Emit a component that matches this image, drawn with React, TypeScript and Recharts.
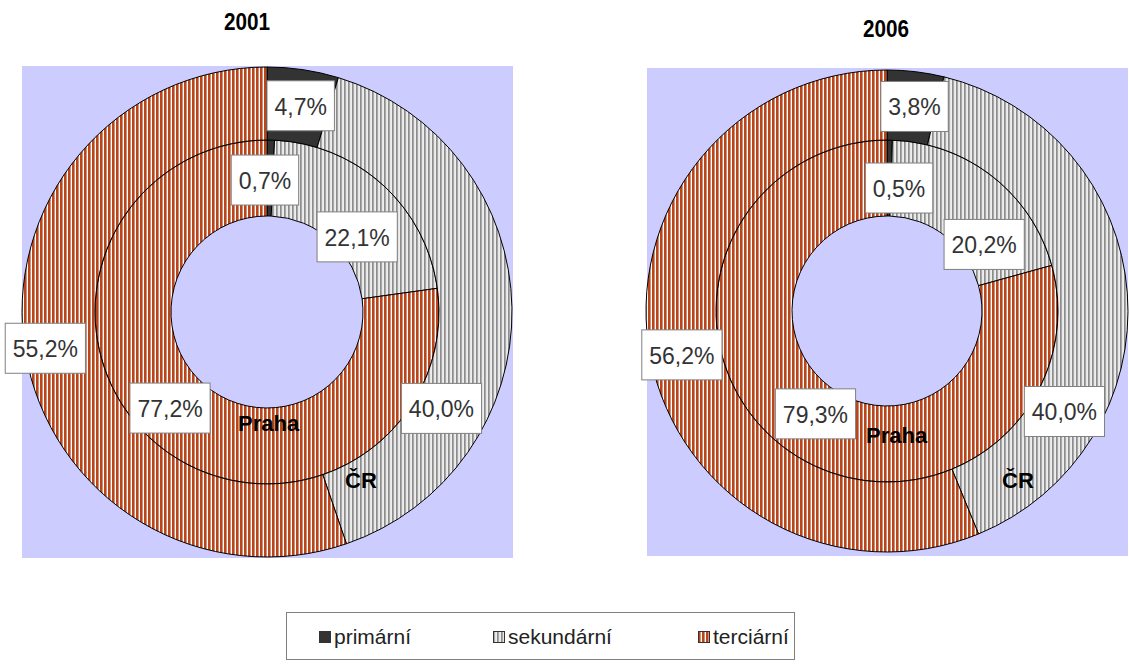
import React from 'react';
import { PieChart, Pie, Cell, Legend } from 'recharts';

// sectors of the economy
const categories = ['primární', 'sekundární', 'terciární'];
const years = ['2001', '2006'];

// outer ring = ČR, inner ring = Praha (share of employment, %)
const cr2001 = [4.7, 40.0, 55.2];
const praha2001 = [0.7, 22.1, 77.2];
const cr2006 = [3.8, 40.0, 56.2];
const praha2006 = [0.5, 20.2, 79.3];

const fills = ['#333333', 'url(#patSek)', 'url(#patTer)'];
const FONT = '"Liberation Sans", Arial, sans-serif';
const RAD = Math.PI / 180;

const rows = (vals: number[]) => categories.map((name, i) => ({ name, value: vals[i] }));

// label nudges from the sector midpoint (labels were dragged in the original)
const nudge2001Outer = [[3, 0], [-34, 100], [-16, 2]];
const nudge2001Inner = [[-5, 2], [0, 24], [-9, -5]];
const nudge2006Outer = [[3, 0], [-28, 116], [-3, 4]];
const nudge2006Inner = [[10, 10], [15, 38], [9, -3]];

const charW: Record<string, number> = { ',': 0.278, '%': 0.889 };
const textWidth = (s: string, size: number) =>
  s.split('').reduce((w, c) => w + (charW[c] ?? 0.556), 0) * size;

function makeLabel(nudge: number[][]) {
  return (p: any) => {
    const r = (p.innerRadius + p.outerRadius) / 2;
    const x = p.cx + r * Math.cos(-p.midAngle * RAD) + nudge[p.index][0];
    const y = p.cy + r * Math.sin(-p.midAngle * RAD) + nudge[p.index][1];
    const txt = Number(p.value).toFixed(1).replace('.', ',') + '%';
    const w = textWidth(txt, 23) + 15;
    return (
      <g key={`lbl-${p.index}`}>
        <rect x={x - w / 2} y={y - 25} width={w} height={50} fill="#fff" stroke="#808080" />
        <text x={x} y={y + 1} textAnchor="middle" dominantBaseline="central" fontSize={23} fontFamily={FONT} fill="#333">
          {txt}
        </text>
      </g>
    );
  };
}

function Swatch({ fill }: { fill: string }) {
  return (
    <svg width={12} height={12} style={{ display: 'block' }}>
      <rect x={0.5} y={0.5} width={11} height={11} fill={fill} stroke="#333" />
    </svg>
  );
}

const legendLeft = [32, 206, 411];

function LegendBox(props: any) {
  const seen: string[] = [];
  (props.payload || []).forEach((e: any) => {
    if (!seen.includes(e.value)) seen.push(e.value);
  });
  const names = seen.length ? seen : categories;
  return (
    <div style={{ position: 'relative', width: 509, height: 48, border: '1px solid #808080', background: '#fff', boxSizing: 'border-box' }}>
      {names.map((n, i) => (
        <div key={n} style={{ position: 'absolute', left: legendLeft[i], top: 12, display: 'flex', alignItems: 'center', gap: 3, fontFamily: FONT, fontSize: 21, color: '#222' }}>
          <Swatch fill={fills[categories.indexOf(n)]} />
          <span>{n}</span>
        </div>
      ))}
    </div>
  );
}

const abs = (left: number, top: number): React.CSSProperties => ({ position: 'absolute', left, top });

export default function App() {
  return (
    <div style={{ position: 'absolute', left: 0, top: 0, width: 1129, height: 664, background: '#fff', overflow: 'hidden' }}>
      <svg width={0} height={0} style={{ position: 'absolute' }}>
        <defs>
          <pattern id="patTer" width={4} height={4} patternUnits="userSpaceOnUse">
            <rect width={4} height={4} fill="#fff" />
            <rect width={2.6} height={4} fill="#B8461A" />
          </pattern>
          <pattern id="patSek" width={4} height={4} patternUnits="userSpaceOnUse">
            <rect width={4} height={4} fill="#d6d6d6" />
            <rect width={1.6} height={4} fill="#8c8c8c" />
            <rect x={2.6} width={1} height={4} fill="#fff" />
          </pattern>
        </defs>
      </svg>

      <div style={{ ...abs(22, 66), width: 491, height: 492, background: '#CCCCFF' }} />
      <div style={{ ...abs(647, 68), width: 481, height: 488, background: '#CCCCFF' }} />

      <div style={{ ...abs(197, 9), width: 100, textAlign: 'center', fontFamily: FONT, fontWeight: 'bold', fontSize: 23, transform: 'scaleX(0.9)' }}>{years[0]}</div>
      <div style={{ ...abs(836, 16), width: 100, textAlign: 'center', fontFamily: FONT, fontWeight: 'bold', fontSize: 23, transform: 'scaleX(0.9)' }}>{years[1]}</div>

      <div style={abs(0, 0)}>
        <PieChart width={1129} height={664} margin={{ top: 0, right: 0, bottom: 0, left: 0 }}>
          <Pie data={rows(praha2001)} dataKey="value" nameKey="name" cx={267} cy={312} innerRadius={96} outerRadius={172}
            startAngle={90} endAngle={-270} stroke="#000" strokeWidth={1} isAnimationActive={false}
            label={makeLabel(nudge2001Inner)} labelLine={false}>
            {fills.map((f, i) => <Cell key={i} fill={f} />)}
          </Pie>
          <Pie data={rows(cr2001)} dataKey="value" nameKey="name" cx={267} cy={312} innerRadius={172} outerRadius={245}
            startAngle={90} endAngle={-270} stroke="#000" strokeWidth={1} isAnimationActive={false}
            label={makeLabel(nudge2001Outer)} labelLine={false}>
            {fills.map((f, i) => <Cell key={i} fill={f} />)}
          </Pie>
          <Pie data={rows(praha2006)} dataKey="value" nameKey="name" cx={887} cy={311} innerRadius={95} outerRadius={171}
            startAngle={90} endAngle={-270} stroke="#000" strokeWidth={1} isAnimationActive={false}
            label={makeLabel(nudge2006Inner)} labelLine={false}>
            {fills.map((f, i) => <Cell key={i} fill={f} />)}
          </Pie>
          <Pie data={rows(cr2006)} dataKey="value" nameKey="name" cx={887} cy={311} innerRadius={171} outerRadius={241}
            startAngle={90} endAngle={-270} stroke="#000" strokeWidth={1} isAnimationActive={false}
            label={makeLabel(nudge2006Outer)} labelLine={false}>
            {fills.map((f, i) => <Cell key={i} fill={f} />)}
          </Pie>
          <Legend content={<LegendBox />} wrapperStyle={{ position: 'absolute', left: 286, top: 612, width: 509, bottom: 'auto' }} />
        </PieChart>
      </div>

      <div style={{ ...abs(238, 411), fontFamily: FONT, fontWeight: 'bold', fontSize: 22 }}>Praha</div>
      <div style={{ ...abs(345, 468), fontFamily: FONT, fontWeight: 'bold', fontSize: 22 }}>ČR</div>
      <div style={{ ...abs(866, 423), fontFamily: FONT, fontWeight: 'bold', fontSize: 22 }}>Praha</div>
      <div style={{ ...abs(1002, 468), fontFamily: FONT, fontWeight: 'bold', fontSize: 22 }}>ČR</div>
    </div>
  );
}
